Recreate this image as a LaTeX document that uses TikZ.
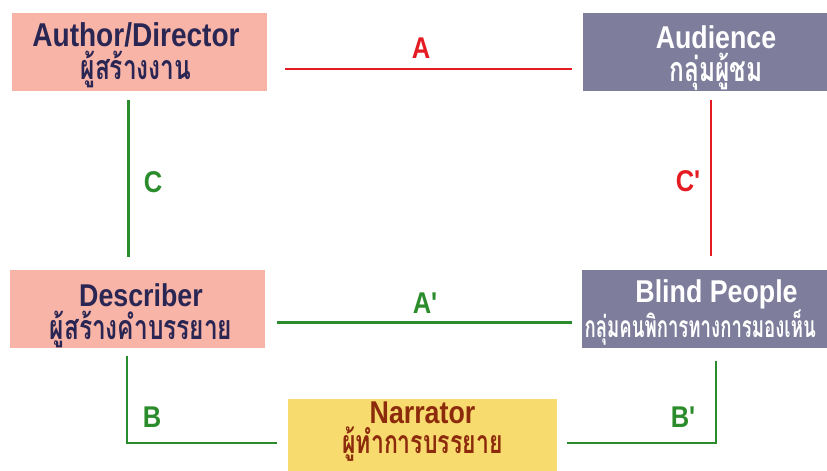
\documentclass[tikz,border=0pt]{standalone}
\usepackage{fontspec}
\newfontfamily\engfont[FakeStretch=0.85]{Liberation Sans}
\newfontfamily\thaifont[Script=Thai,FakeStretch=0.72]{Loma}
\newfontfamily\thainarrow[Script=Thai,FakeStretch=0.62]{Loma}
\usetikzlibrary{positioning}
\usetikzlibrary{calc}

\definecolor{boxpink}{HTML}{F8B4A7}
\definecolor{boxgrey}{HTML}{7E7E9C}
\definecolor{boxyellow}{HTML}{F8DB6E}
\definecolor{textnavy}{HTML}{2A2654}
\definecolor{textbrown}{HTML}{8C2A0C}
\definecolor{linered}{HTML}{E41B22}
\definecolor{linegreen}{HTML}{2B8C2B}

\tikzset{
    box/.style={minimum height=78pt, inner sep=0pt},
    pinkbox/.style={box, fill=boxpink, minimum width=255pt},
    greybox/.style={box, fill=boxgrey, minimum width=270pt},
    yellowbox/.style={box, fill=boxyellow, minimum width=269pt, minimum height=82pt},
    boxtext/.style={inner sep=0pt, align=center, anchor=north,
        font=\fontsize{31.5}{33}\selectfont},
    redline/.style={draw=linered, line width=2.6pt},
    greenline/.style={draw=linegreen, line width=2.6pt},
    lbl/.style={font=\fontsize{30}{30}\selectfont\engfont\bfseries,
        inner sep=0pt, anchor=base},
}

\begin{document}
\begin{tikzpicture}[x=1pt, y=-1pt]
    \useasboundingbox (0,0) rectangle (827,471);

    % boxes
    \node[pinkbox](author) at (139.5,52) {};
    \node[greybox](audience) at (718,52) {};
    \node[pinkbox](describer) at (137.5,308.5) {};
    \node[greybox](blind) at (717,308.5) {};
    \node[yellowbox](narrator) at (422.5,440) {};

    % texts in the boxes
    \node[boxtext, text=textnavy, font=\fontsize{33}{33}\selectfont] (author-txt) at (136,22.5)
        {{\engfont\bfseries Author/Director}\\{\thaifont\bfseries\fontsize{34}{34}\selectfont ผู้สร้างงาน}};
    \node[boxtext, text=white] (audience-txt) at (716,25.5)
        {{\engfont\bfseries Audience}\\{\thaifont\bfseries\fontsize{34}{34}\selectfont กลุ่มผู้ชม}};
    \node[boxtext, text=textnavy] (describer-txt) at (141,283.5)
        {{\engfont\bfseries Describer}\\{\thaifont\bfseries\fontsize{34}{34}\selectfont ผู้สร้างคำบรรยาย}};
    \node[boxtext, text=white, font=\fontsize{31.5}{35}\selectfont] (blind-txt) at (716.5,279.5)
        {{\engfont\bfseries Blind People}\\\makebox[268pt][l]{\hspace{2pt}\thainarrow\bfseries\fontsize{30}{30}\selectfont กลุ่มคนพิการทางการมองเห็น}};
    \node[boxtext, text=textbrown, font=\fontsize{31.5}{30}\selectfont] (narrator-txt) at (422.5,402)
        {{\engfont\bfseries Narrator}\\{\thaifont\bfseries\fontsize{32}{30}\selectfont ผู้ทำการบรรยาย}};

    % top row and left / right sides
    \draw[redline] ($(author.east)+(18,17)$) -- ($(audience.west)+(-11,17)$);
    \draw[greenline] ($(author.south)+(-11,9)$) -- ($(describer.north)+(-9,-12)$);
    \draw[redline] ($(audience.south)+(-7,9)$) -- ($(blind.north)+(-6,-13)$);
    \draw[greenline] ($(describer.east)+(12,14)$) -- ($(blind.west)+(-10,14)$);

    % down to the narrator
    \draw[greenline] ($(describer.south)+(-10.5,8)$) |- ($(narrator.west)+(-11,3)$);
    \draw[greenline] ($(narrator.east)+(10,3)$) -| ($(blind.south)+(-1,13)$);

    % connector labels
    \node[lbl, text=linered] (la) at (421,58) {A};
    \node[lbl, text=linegreen] (lc) at (153,192) {C};
    \node[lbl, text=linered] (lcc) at (688,191) {C'};
    \node[lbl, text=linegreen] (laa) at (425,313) {A'};
    \node[lbl, text=linegreen] (lb) at (152,427) {B};
    \node[lbl, text=linegreen] (lbb) at (683,427) {B'};
\end{tikzpicture}
\end{document}
